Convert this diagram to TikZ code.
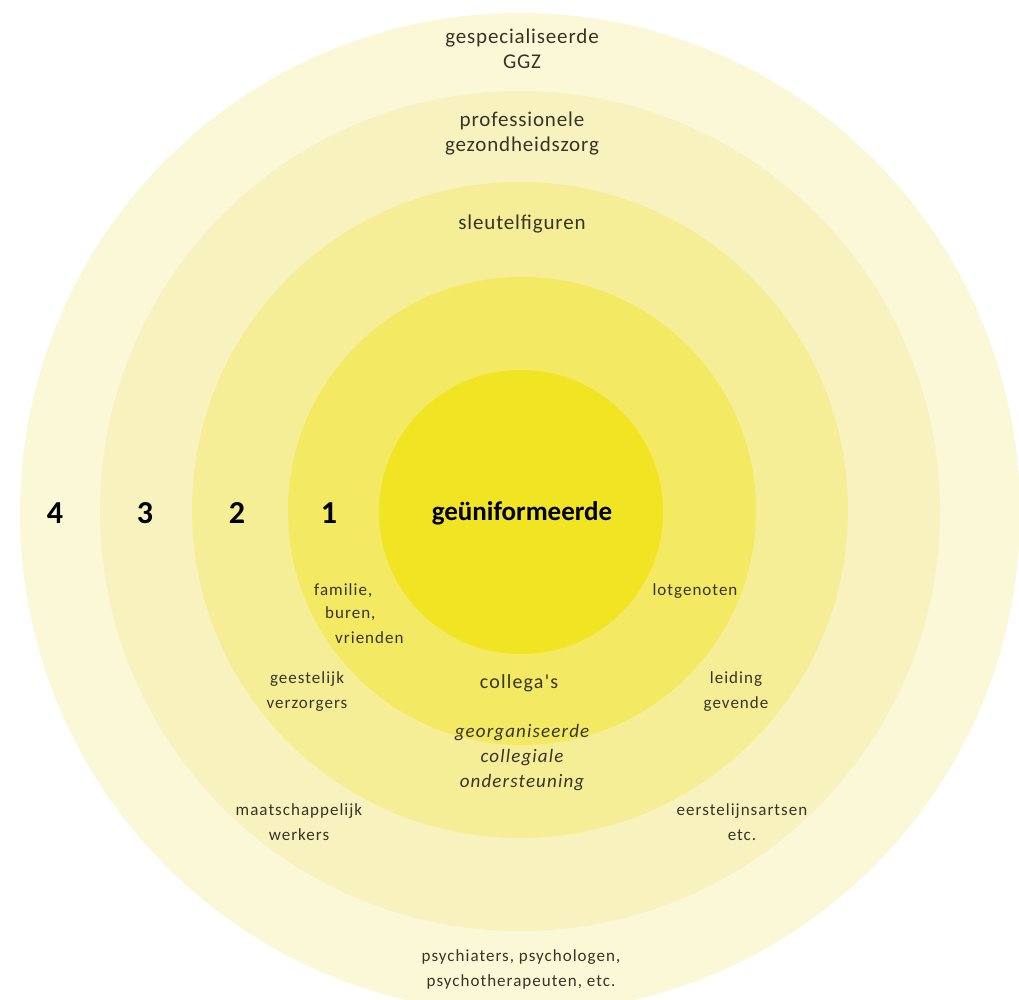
\documentclass[tikz,border=0pt]{standalone}
\usepackage{fontspec}
\setmainfont{Carlito}
\newfontfamily\labfont[LetterSpace=6]{Carlito}
\newfontfamily\headfont[LetterSpace=4]{Carlito}
\definecolor{cin}{RGB}{241,228,34}
\definecolor{cra}{RGB}{243,233,98}
\definecolor{crb}{RGB}{245,238,150}
\definecolor{crc}{RGB}{248,243,190}
\definecolor{crd}{RGB}{251,248,216}
\definecolor{txt}{RGB}{55,52,40}
\begin{document}
\begin{tikzpicture}[x=1pt,y=-1pt,
  lab/.style={font=\labfont\fontsize{17}{25}\selectfont, text=txt, align=center, inner sep=0pt},
  head/.style={font=\headfont\fontsize{21}{25}\selectfont, text=txt, align=center, inner sep=0pt},
  num/.style={font=\fontsize{32}{34}\selectfont\bfseries, text=black, inner sep=0pt}]
\useasboundingbox (0,0) rectangle (1019,999);
\clip (0,0) rectangle (1019,999);
\fill[white] (0,0) rectangle (1019,999);
\fill[crd] (520,513) circle[radius=500pt];
\fill[crc] (520,511) circle[radius=420pt];
\fill[crb] (520,510) circle[radius=328pt];
\fill[cra] (522,511) circle[radius=234pt];
\fill[cin] (521,512) circle[radius=142pt];
% numbers
\node[num] (n4) at (55,513) {4};
\node[num] (n3) at (145,513) {3};
\node[num] (n2) at (237,513) {2};
\node[num] (n1) at (329,513) {1};
\node[inner sep=0pt, text=black, font=\fontsize{27}{30}\selectfont\bfseries] (core) at (522,513) {geüniformeerde};
% top headers
\node[head] (ggz) at (522,49) {gespecialiseerde\\GGZ};
\node[head] (prof) at (522,134) {professionele\\gezondheidszorg};
\node[head] (sleutel) at (522,224) {sleutelfiguren};
% ring labels
\node[lab, anchor=west] (fam) at (314,591) {familie,};
\node[lab, anchor=west] (bur) at (325,614) {buren,};
\node[lab, anchor=west] (vri) at (335,638) {vrienden};
\node[lab] (lot) at (695,591) {lotgenoten};
\node[lab] (gees) at (307,692) {geestelijk\\verzorgers};
\node[lab, font=\labfont\fontsize{20}{25}\selectfont] (coll) at (519,683) {collega's};
\node[lab, font=\labfont\fontsize{19}{25}\selectfont\itshape] (org) at (522,758) {georganiseerde\\collegiale\\ondersteuning};
\node[lab] (leid) at (736,692) {leiding\\gevende};
\node[lab] (maat) at (299,822) {maatschappelijk\\werkers};
\node[lab] (eers) at (742,822) {eerstelijnsartsen\\etc.};
\node[lab] (psy) at (521,969) {psychiaters, psychologen,\\psychotherapeuten, etc.};
\end{tikzpicture}
\end{document}
